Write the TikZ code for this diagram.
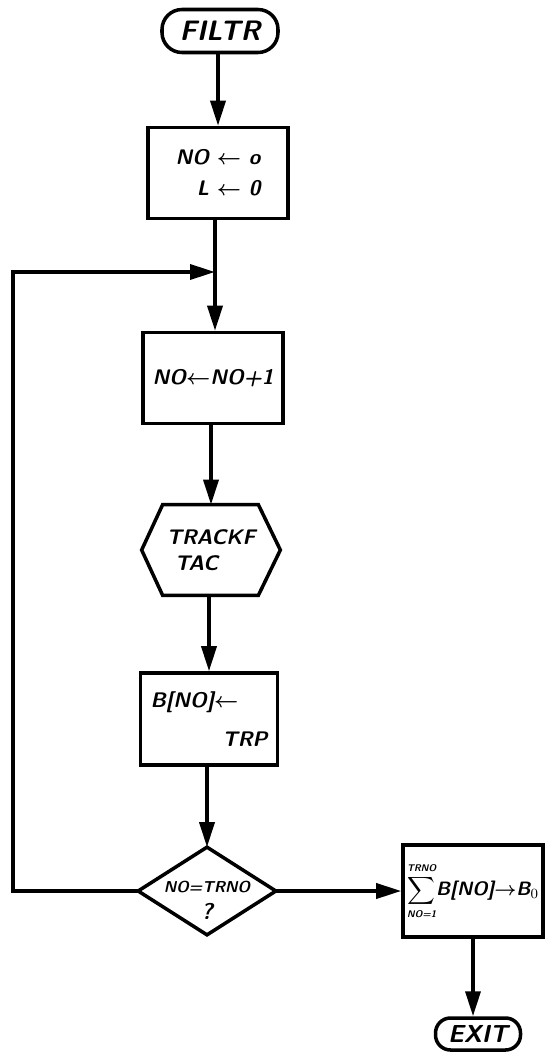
\documentclass[tikz,border=0pt]{standalone}
\usepackage{amsmath}
\usetikzlibrary{arrows.meta}

\tikzset{
  hand/.style={font=\sffamily\bfseries\slshape\fontsize{12}{15}\selectfont},
  term/.style={draw, line width=2pt, rounded corners=0.4cm, minimum width=2.32cm, minimum height=0.86cm, inner sep=1pt, font=\sffamily\bfseries\slshape\fontsize{16}{18}\selectfont},
  procbox/.style={hand, draw, line width=2pt, minimum width=2.80cm, minimum height=1.82cm, inner sep=2pt},
  hexbox/.style={hand, minimum width=2.76cm, minimum height=1.80cm, inner sep=0pt},
  flow/.style={line width=2pt, -{Triangle[length=0.5cm,width=0.3cm]}},
  plain/.style={line width=2pt}
}

\newcommand{\getsto}{$\boldsymbol{\leftarrow}$}

\begin{document}
\begin{tikzpicture}

\useasboundingbox (0,0) rectangle (10.92,-21.08);

% Debut
\node[term] (filtr) at (4.40,-0.62)
{FILTR};

% Initialisation
\node[procbox, align=right] (init) at (4.36,-3.46)
{NO \getsto{} o\\[0.1cm]L \getsto{} 0};

\coordinate (join) at (4.30,-5.44);

\node[procbox] (incr) at (4.26,-7.56)
{NO\getsto{}NO+1};

% Appel TRACKF
\node[hexbox, align=left] (trackf) at (4.22,-11.0)
{TRACKF\\\hspace*{0.4em}TAC};

\draw[plain] ([xshift=0.42cm]trackf.north west) -- ([xshift=-0.44cm]trackf.north east)
  -- (trackf.east) -- ([xshift=-0.44cm]trackf.south east)
  -- ([xshift=0.42cm]trackf.south west) -- (trackf.west) -- cycle;

% Stockage
\node[procbox, minimum width=2.74cm, minimum height=1.84cm, align=left] (store) at (4.18,-14.38)
{B[NO]\getsto\\[0.25cm]\hspace*{3.4em}TRP};

% Test
\node[font=\sffamily\bfseries\slshape\fontsize{9}{12}\selectfont, minimum width=2.74cm, minimum height=1.74cm, inner sep=0pt, align=center] (test) at (4.14,-17.82)
{\rule{0pt}{0.6cm}NO=TRNO\\[0.12cm]{\fontsize{13}{14}\selectfont ?}};

\draw[plain] (test.north) -- (test.east) -- (test.south) -- (test.west) -- cycle;

% Somme
\node[procbox, font=\sffamily\bfseries\slshape\fontsize{11}{13}\selectfont, inner sep=1pt, minimum height=1.84cm] (sum) at (9.46,-17.82)
{$\displaystyle\sum_{\scriptscriptstyle\text{NO=1}}^{\scriptscriptstyle\text{TRNO}}\!\text{B[NO]}{\boldsymbol{\rightarrow}}\text{B}_{0}$};

% Fin
\node[term, font=\sffamily\bfseries\slshape\fontsize{14}{16}\selectfont, minimum width=1.70cm, minimum height=0.64cm, rounded corners=0.3cm] (exit) at (9.56,-20.68)
{EXIT};

% Liaisons
\draw[flow] (filtr.south -| init) -- (init.north);
\draw[plain] (init.south -| join) -- (join);
\draw[flow] (join) -- (incr.north -| join);
\draw[flow] (incr.south -| trackf) -- (trackf.north);
\draw[flow] (trackf.south -| store) -- (store.north);
\draw[flow] (store.south -| test) -- (test.north);
\draw[flow] (test.east) -- (sum.west);
\draw[flow] (sum.south) -- (sum.south |- exit.north);

% Boucle
\coordinate (corner) at (0.26,-17.82);
\draw[flow] (test.west) -- (corner) |- (join);

\end{tikzpicture}
\end{document}
